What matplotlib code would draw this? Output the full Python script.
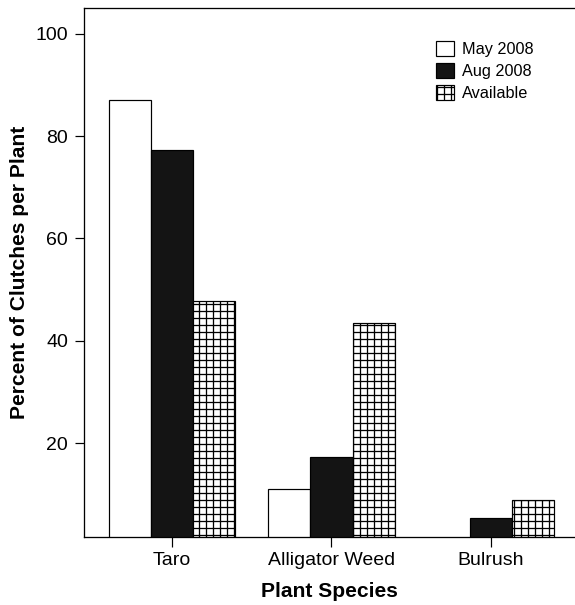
import numpy as np
import matplotlib
matplotlib.use("Agg")
import matplotlib.pyplot as plt

# data
species = ["Taro", "Alligator Weed", "Bulrush"]
may_2008 = [87.1, 11.1, 0.0]
aug_2008 = [77.2, 17.4, 5.5]
available = [47.7, 43.4, 8.9]

DPI = 84
pt = 72.0 / DPI  # pixels -> points

plt.rcParams["font.family"] = ["Liberation Sans", "DejaVu Sans"]
plt.rcParams["hatch.linewidth"] = 1.1

fig = plt.figure(figsize=(575 / DPI, 605 / DPI), dpi=DPI)
ax = fig.add_axes([84 / 575, 1 - 537 / 605, (575 - 84) / 575, (537 - 8) / 605])

x = np.arange(len(species))
w = 0.264
edge = dict(edgecolor="black", linewidth=1.2 * pt)
ax.bar(x - w, may_2008, w, color="white", label="May 2008", **edge)
ax.bar(x, aug_2008, w, color="#141414", label="Aug 2008", **edge)
ax.bar(x + w, available, w, color="white", hatch="++", label="Available", **edge)

ax.set_xlim(-0.554, 2.529)
ax.set_ylim(1.7, 105)
ax.set_yticks([20, 40, 60, 80, 100])
ax.set_xticks(x)
ax.set_xticklabels(species)

ax.spines["right"].set_visible(False)
for s in ["left", "top", "bottom"]:
    ax.spines[s].set_linewidth(1.3 * pt)
ax.tick_params(axis="y", length=9 * pt, width=1.2 * pt, pad=7 * pt, labelsize=19.5 * pt)
ax.tick_params(axis="x", length=10 * pt, width=1.2 * pt, pad=5 * pt, labelsize=19.5 * pt)

ax.set_ylabel("Percent of Clutches per Plant", fontsize=21 * pt, fontweight="bold", labelpad=6 * pt)
ax.set_xlabel("Plant Species", fontsize=21 * pt, fontweight="bold", labelpad=13 * pt)

fs = 16.3
ax.legend(loc="upper left", bbox_to_anchor=(436 / 575, 1 - 41 / 605),
          bbox_transform=fig.transFigure, frameon=False, fontsize=fs * pt,
          borderpad=0, borderaxespad=0, handlelength=18 / fs, handleheight=17 / fs,
          labelspacing=0.37, handletextpad=0.47)

fig.savefig("out.png", dpi=DPI)
